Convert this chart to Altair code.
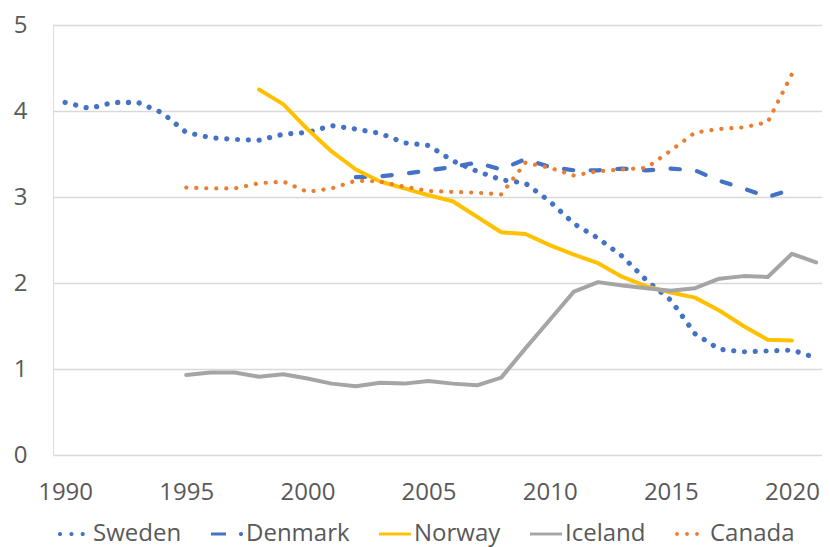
import altair as alt
import pandas as pd

countries = ["Sweden", "Denmark", "Norway", "Iceland", "Canada"]

sweden_start = 1990
sweden = [4.10, 4.03, 4.10, 4.10, 3.98, 3.75, 3.69, 3.67, 3.66, 3.73, 3.75, 3.83,
          3.79, 3.74, 3.63, 3.60, 3.42, 3.30, 3.20, 3.16, 2.95, 2.69, 2.52, 2.31,
          2.03, 1.80, 1.41, 1.23, 1.20, 1.21, 1.22, 1.13]

denmark_start = 2002
denmark = [3.23, 3.24, 3.27, 3.31, 3.35, 3.40, 3.32, 3.44, 3.35, 3.31, 3.31, 3.33,
           3.31, 3.33, 3.31, 3.19, 3.10, 3.00, 3.09]

norway_start = 1998
norway = [4.25, 4.08, 3.79, 3.53, 3.32, 3.18, 3.10, 3.02, 2.95, 2.77, 2.59, 2.57,
          2.44, 2.33, 2.23, 2.07, 1.96, 1.89, 1.83, 1.68, 1.50, 1.34, 1.33]

iceland_start = 1995
iceland = [0.93, 0.96, 0.96, 0.91, 0.94, 0.89, 0.83, 0.80, 0.84, 0.83, 0.86, 0.83,
           0.81, 0.90, 1.24, 1.57, 1.90, 2.01, 1.97, 1.94, 1.91, 1.94, 2.05, 2.08,
           2.07, 2.34, 2.24]

canada_start = 1995
canada = [3.11, 3.10, 3.10, 3.16, 3.18, 3.06, 3.10, 3.19, 3.18, 3.12, 3.07, 3.06,
          3.05, 3.03, 3.40, 3.34, 3.25, 3.30, 3.32, 3.34, 3.54, 3.75, 3.79, 3.81,
          3.87, 4.43]

x_ticks = [1990, 1995, 2000, 2005, 2010, 2015, 2020]
y_ticks = [0, 1, 2, 3, 4, 5]

series = [
    ("Sweden", sweden_start, sweden),
    ("Denmark", denmark_start, denmark),
    ("Norway", norway_start, norway),
    ("Iceland", iceland_start, iceland),
    ("Canada", canada_start, canada),
]
rows = []
for name, start, vals in series:
    for i, v in enumerate(vals):
        rows.append({"country": name, "year": start + i, "value": v})
df = pd.DataFrame(rows)

# styles
colors = ["#4472C4", "#4472C4", "#FFC000", "#A5A5A5", "#ED7D31"]
dashes = [[0.1, 10.7], [9.3, 17.4], None, None, [0.1, 9.9]]
widths = [5.2, 4.2, 4, 4, 4.2]


def circ(cx, r):
    return f"M{cx - r},0A{r},{r} 0 1,0 {cx + r},0A{r},{r} 0 1,0 {cx - r},0Z"


legend_paths = [
    circ(-0.875, 0.13) + circ(-0.16, 0.13) + circ(0.545, 0.13),
    "M-1,-0.1H-0.0625V0.1H-1Z" + circ(0.875, 0.13),
    "M-1,-0.09H1V0.09H-1Z",
    "M-1,-0.09H1V0.09H-1Z",
    circ(-0.875, 0.12) + circ(-0.25, 0.12) + circ(0.375, 0.12),
]

FONT = "Open Sans"
TXT = "#595959"

x_enc = alt.X(
    "year:Q",
    scale=alt.Scale(domain=[1989.5, 2021.24], nice=False, zero=False),
    axis=alt.Axis(values=x_ticks, format="d", title=None, grid=False, domain=False,
                  ticks=False, labelPadding=25, labelFontSize=24, labelColor=TXT,
                  labelFont=FONT, labelFlush=False, labelOverlap=False),
)
y_enc = alt.Y(
    "value:Q",
    scale=alt.Scale(domain=[0, 5], nice=False, zero=True),
    axis=alt.Axis(values=y_ticks, title=None, grid=True, gridColor="#d9d9d9",
                  gridWidth=1.3, domain=False, ticks=False, labelPadding=26,
                  labelFontSize=24, labelColor=TXT, labelFont=FONT),
)

base = alt.Chart(df)
layers = []
for name, c, d, w in zip(countries, colors, dashes, widths):
    kw = dict(color=c, strokeWidth=w, strokeCap="round", strokeJoin="round")
    if d is not None:
        kw["strokeDash"] = d
    layers.append(
        base.transform_filter(alt.datum.country == name)
        .mark_line(**kw)
        .encode(x=x_enc, y=y_enc, order="year:Q")
    )

leg = alt.Legend(
    title=None, orient="none", legendX=5, legendY=493, direction="horizontal",
    columns=5, symbolSize=1024, symbolStrokeWidth=0, symbolOpacity=1,
    labelFont=FONT, labelFontSize=24, labelColor=TXT, labelOffset=3,
    columnPadding=29, padding=0, labelLimit=300,
)

legend_layer = (
    base.transform_filter("false")
    .mark_point(filled=True, opacity=1, size=1024)
    .encode(
        x=x_enc,
        y=y_enc,
        color=alt.Color("country:N", scale=alt.Scale(domain=countries, range=colors), legend=leg),
        shape=alt.Shape("country:N", scale=alt.Scale(domain=countries, range=legend_paths), legend=leg),
    )
)

chart = (
    alt.layer(*layers, legend_layer)
    .properties(
        width=769,
        height=430,
        autosize=alt.AutoSizeParams(type="none"),
        padding={"left": 45, "top": 17, "right": 0, "bottom": 92},
    )
    .configure_view(stroke=None)
    .configure(font=FONT)
)

chart.save("out.html", embed_options={"renderer": "svg", "actions": False})
